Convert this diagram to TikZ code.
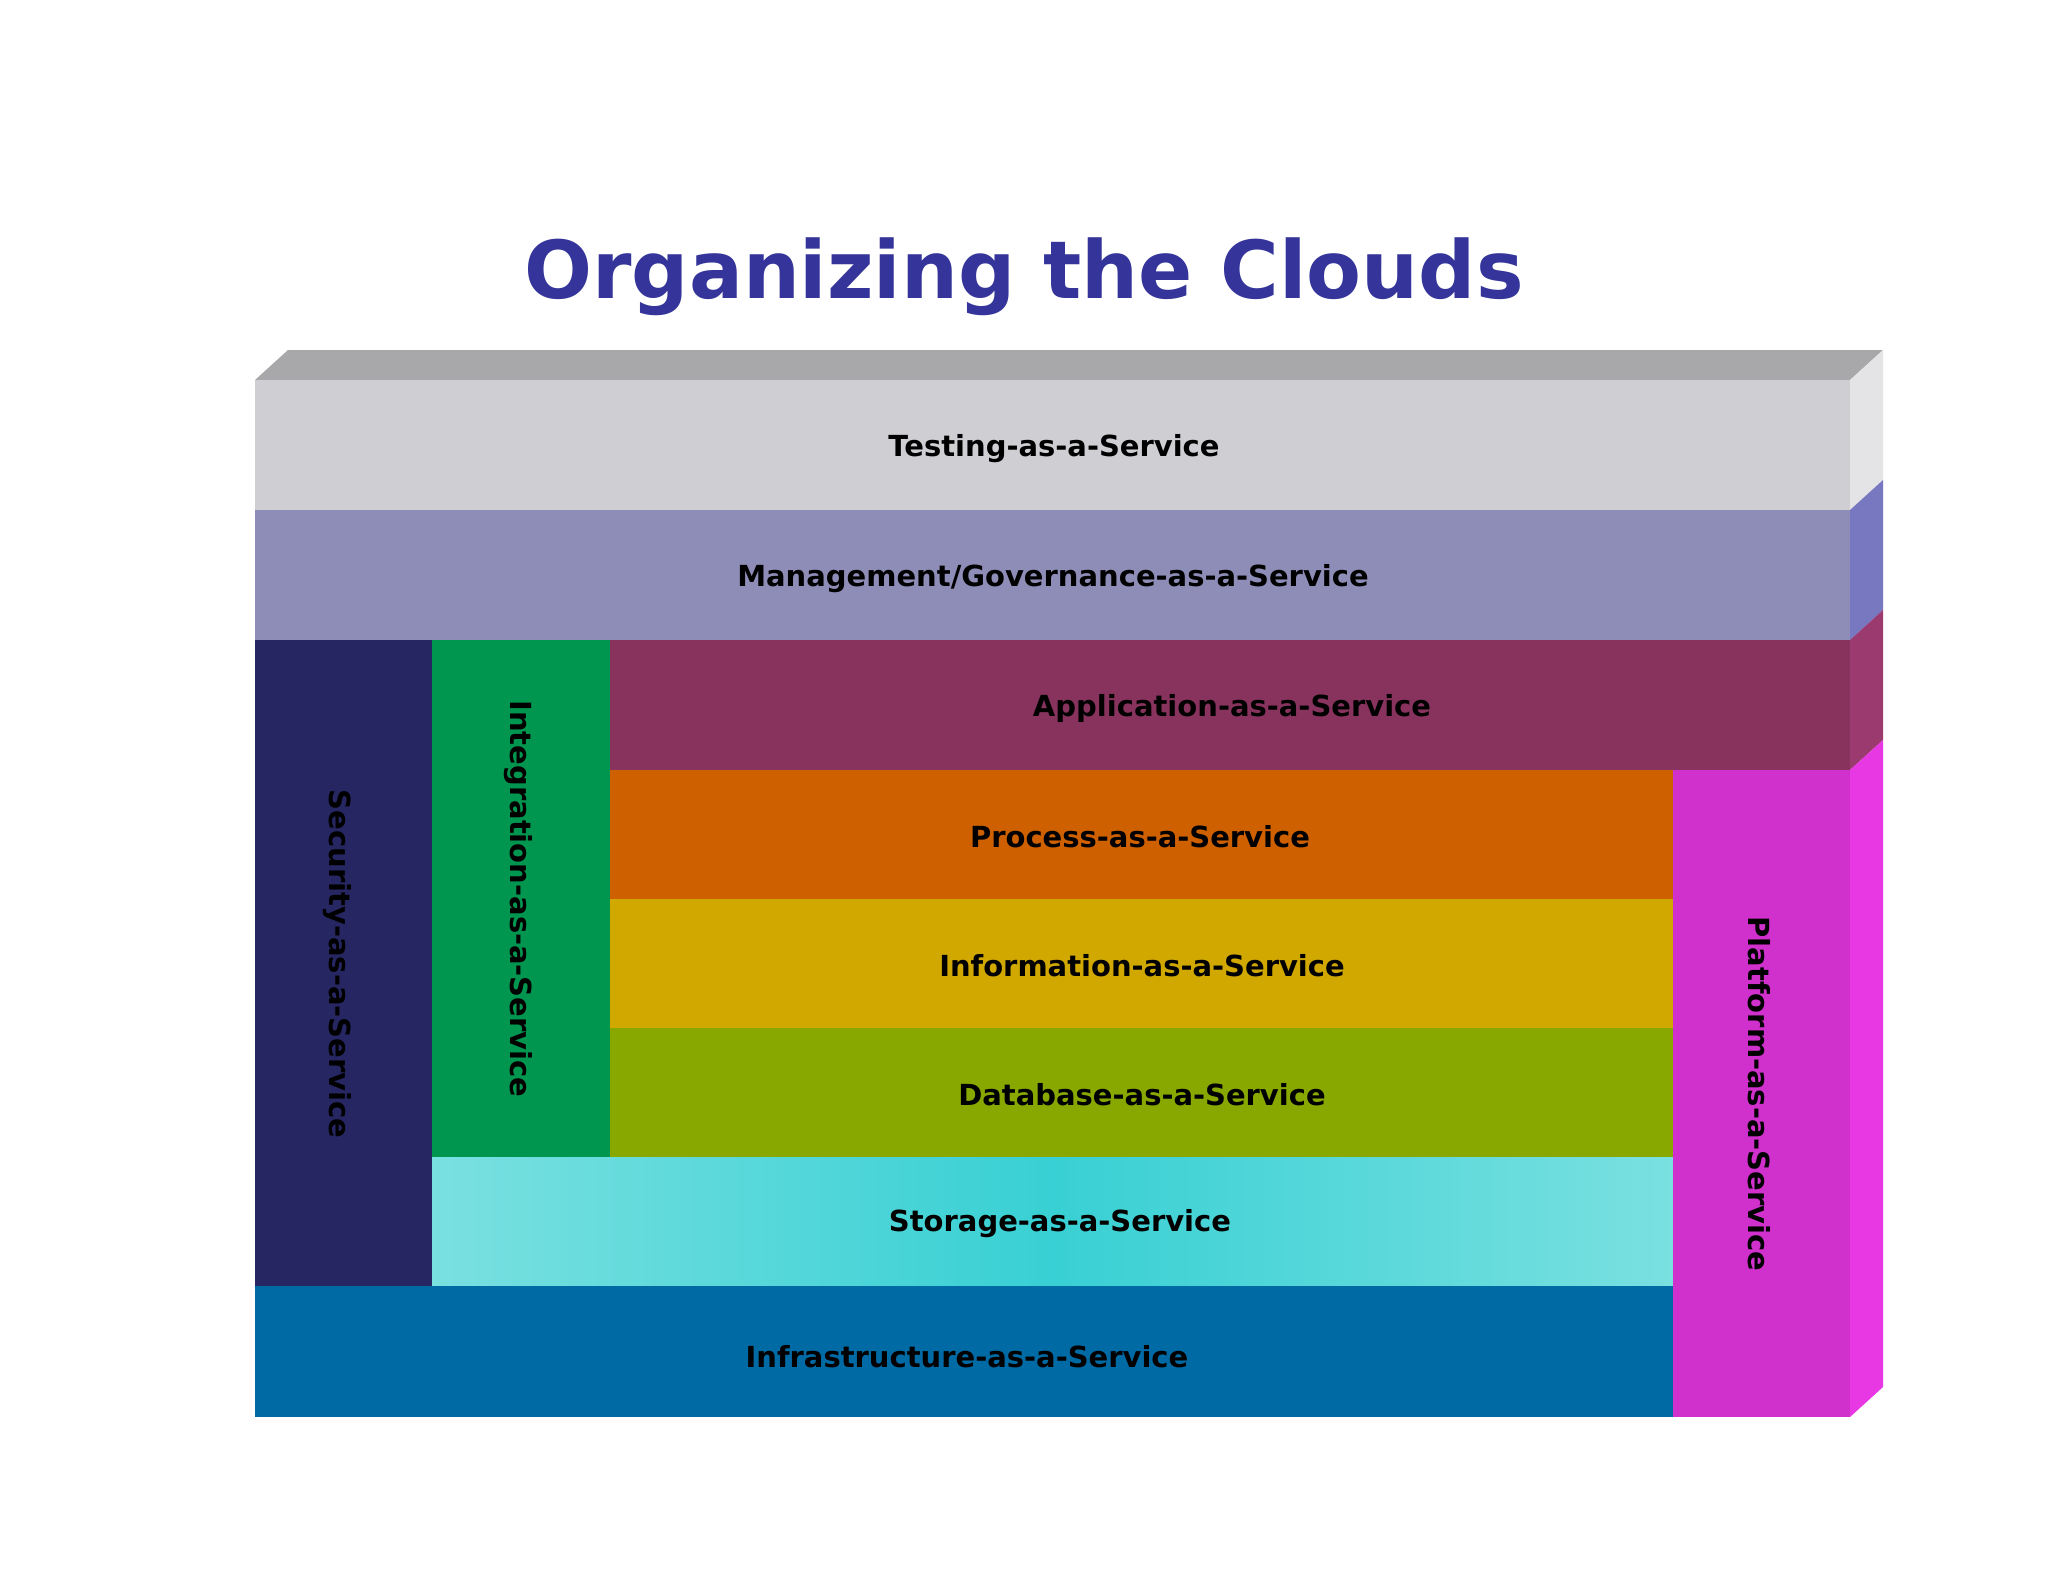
\documentclass[tikz,border=0pt]{standalone}
\usepackage{fontspec}
\setmainfont{DejaVu Sans}
\begin{document}
\begin{tikzpicture}[x=1pt,y=-1pt,
 lbl/.style={font=\bfseries\fontsize{29}{32}\selectfont,text=black},
 vlbl/.style={lbl,rotate=-90}]
\definecolor{ttl}{HTML}{34349A}
\fill[white] (0,0) rectangle (2048,1582);
\useasboundingbox (0,0) rectangle (2048,1582);
\node[font=\bfseries\fontsize{80}{90}\selectfont,text=ttl] (title) at (1024,277) {Organizing the Clouds};
% top face and side faces
\fill[color={rgb,255:red,168;green,167;blue,170}] (255,380) -- (288,350) -- (1883,350) -- (1850,380) -- cycle;
\fill[color={rgb,255:red,228;green,228;blue,230}] (1850,380) -- (1883,350) -- (1883,480) -- (1850,510) -- cycle;
\fill[color={rgb,255:red,120;green,120;blue,192}] (1850,510) -- (1883,480) -- (1883,610) -- (1850,640) -- cycle;
\fill[color={rgb,255:red,154;green,58;blue,110}] (1850,640) -- (1883,610) -- (1883,740) -- (1850,770) -- cycle;
\fill[color={rgb,255:red,232;green,56;blue,228}] (1850,770) -- (1883,740) -- (1883,1387) -- (1850,1417) -- cycle;
% front faces
\fill[color={rgb,255:red,207;green,206;blue,210}] (255,380) rectangle (1850,510);
\fill[color={rgb,255:red,142;green,141;blue,184}] (255,510) rectangle (1850,640);
\fill[color={rgb,255:red,38;green,38;blue,98}] (255,640) rectangle (432,1286);
\fill[color={rgb,255:red,0;green,150;blue,80}] (432,640) rectangle (610,1157);
\fill[color={rgb,255:red,136;green,51;blue,94}] (610,640) rectangle (1850,770);
\fill[color={rgb,255:red,206;green,96;blue,0}] (610,770) rectangle (1673,899);
\fill[color={rgb,255:red,208;green,168;blue,0}] (610,899) rectangle (1673,1028);
\fill[color={rgb,255:red,136;green,168;blue,0}] (610,1028) rectangle (1673,1157);
\shade[left color={rgb,255:red,122;green,224;blue,224},right color={rgb,255:red,56;green,208;blue,212}] (432,1157) rectangle (1052,1286);
\shade[right color={rgb,255:red,122;green,224;blue,224},left color={rgb,255:red,56;green,208;blue,212}] (1051,1157) rectangle (1673,1286);
\fill[color={rgb,255:red,0;green,106;blue,164}] (255,1286) rectangle (1673,1417);
\fill[color={rgb,255:red,208;green,48;blue,204}] (1673,770) rectangle (1850,1417);
% labels
\node[lbl] (test) at (1054,449) {Testing-as-a-Service};
\node[lbl] (mgmt) at (1053,579) {Management/Governance-as-a-Service};
\node[lbl] (app) at (1232,708) {Application-as-a-Service};
\node[lbl] (proc) at (1140,837) {Process-as-a-Service};
\node[lbl] (info) at (1142,966) {Information-as-a-Service};
\node[lbl] (db) at (1142,1095) {Database-as-a-Service};
\node[lbl] (stor) at (1060,1224) {Storage-as-a-Service};
\node[lbl] (infra) at (967,1357) {Infrastructure-as-a-Service};
\node[vlbl] (sec) at (337,964) {Security-as-a-Service};
\node[vlbl] (integ) at (518,899) {Integration-as-a-Service};
\node[vlbl] (plat) at (1759,1094) {Platform-as-a-Service};
\end{tikzpicture}
\end{document}
